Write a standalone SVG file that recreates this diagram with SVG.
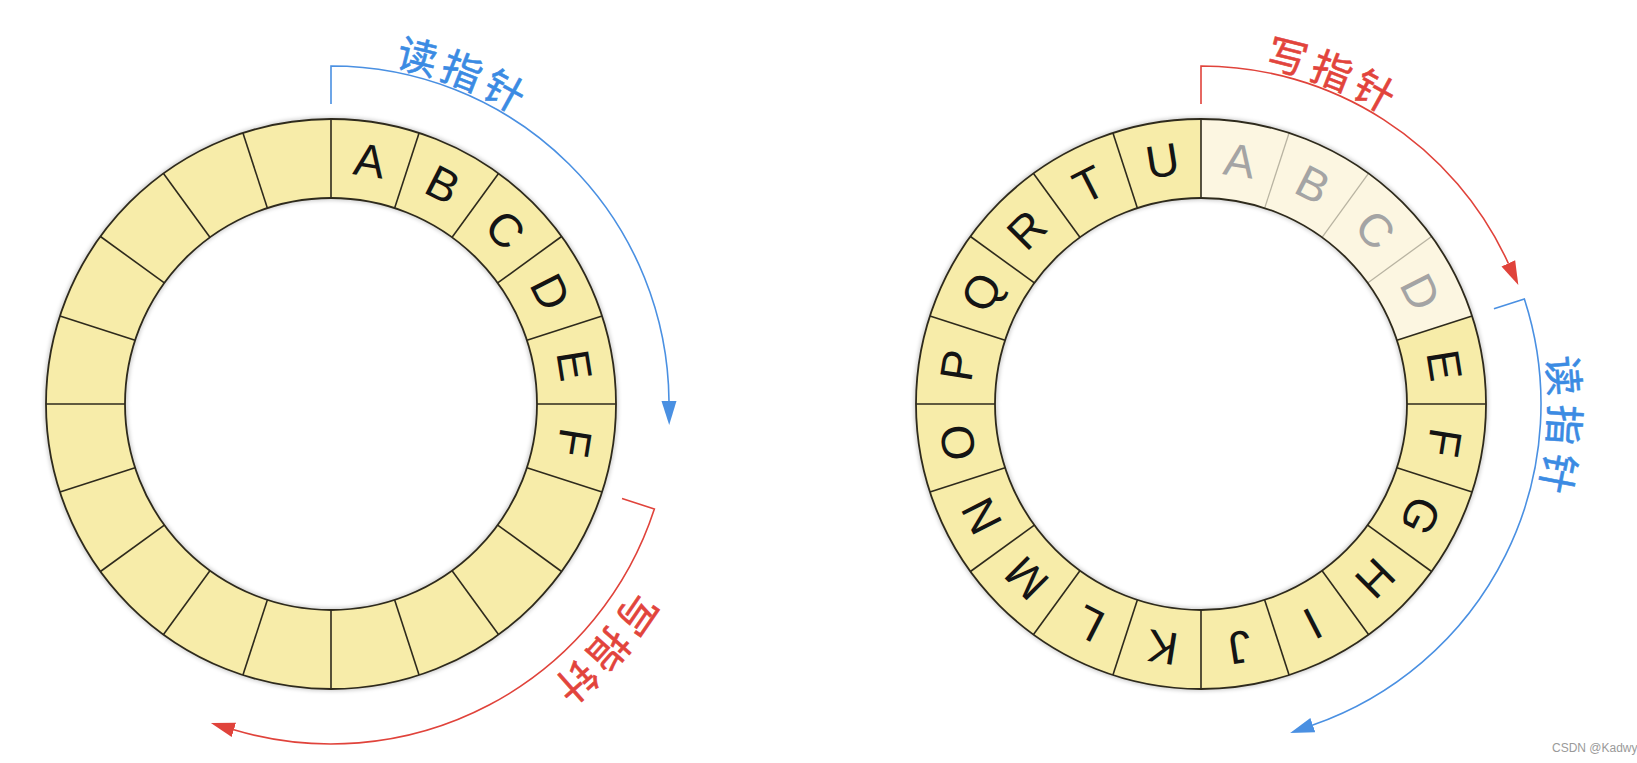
<svg xmlns="http://www.w3.org/2000/svg" width="1637" height="763" viewBox="0 0 1637 763">
  <style>
    .band { fill: none; stroke: #f7eca9; stroke-width: 79; }
    .band-fade { fill: none; stroke: #fcf6e1; stroke-width: 79; }
    .edge { fill: none; stroke: #2e2a1c; stroke-width: 1.8; }
    .halo { fill: none; stroke: #000; stroke-opacity: 0.28; stroke-width: 3; filter: url(#blur); }
    .div { stroke: #2e2a1c; stroke-width: 1.6; }
    .div-fade { stroke: #b9b4a2; stroke-width: 1.3; }
    .let { font-family: "Liberation Sans", Arial, sans-serif; font-size: 46px; fill: #141414; text-anchor: middle; }
    .let-fade { fill: #a4a4a4; }
    .cjk { font-family: "Noto Sans CJK SC", "Noto Sans", sans-serif; font-size: 40px; text-anchor: middle; stroke-width: 0.6; }
    .blue-t { fill: #3b8be3; stroke: #3b8be3; }
    .red-t { fill: #e2443c; stroke: #e2443c; }
    .ptr-blue { fill: none; stroke: #4a90e2; stroke-width: 1.6; marker-end: url(#ahBlue); }
    .ptr-red { fill: none; stroke: #e0433b; stroke-width: 1.6; marker-end: url(#ahRed); }
    .wm { font-family: "Liberation Sans", Arial, sans-serif; font-size: 12px; fill: #9a9a9a; }
  </style>
  <defs>
    <filter id="blur" x="-10%" y="-10%" width="120%" height="120%">
      <feGaussianBlur stdDeviation="2"/>
    </filter>
    <marker id="ahBlue" viewBox="0 -8 25 16" refX="0" refY="0" markerWidth="25" markerHeight="16" markerUnits="userSpaceOnUse" orient="auto">
      <path d="M0,-7.5 L24,0 L0,7.5 Z" fill="#4a90e2"/>
    </marker>
    <marker id="ahRed" viewBox="0 -8 25 16" refX="0" refY="0" markerWidth="25" markerHeight="16" markerUnits="userSpaceOnUse" orient="auto">
      <path d="M0,-7.5 L24,0 L0,7.5 Z" fill="#e0433b"/>
    </marker>
  </defs>
  <rect width="1637" height="763" fill="#ffffff"/>

  <!-- Left ring buffer -->
  <g id="ring-left">
    <circle class="halo" cx="331" cy="404" r="285"/>
    <circle class="halo" cx="331" cy="404" r="206"/>
    <circle class="band" cx="331" cy="404" r="245.5"/>
    <g class="div">
      <line x1="331" y1="198" x2="331" y2="119" transform="rotate(0 331 404)"/>
      <line x1="331" y1="198" x2="331" y2="119" transform="rotate(18 331 404)"/>
      <line x1="331" y1="198" x2="331" y2="119" transform="rotate(36 331 404)"/>
      <line x1="331" y1="198" x2="331" y2="119" transform="rotate(54 331 404)"/>
      <line x1="331" y1="198" x2="331" y2="119" transform="rotate(72 331 404)"/>
      <line x1="331" y1="198" x2="331" y2="119" transform="rotate(90 331 404)"/>
      <line x1="331" y1="198" x2="331" y2="119" transform="rotate(108 331 404)"/>
      <line x1="331" y1="198" x2="331" y2="119" transform="rotate(126 331 404)"/>
      <line x1="331" y1="198" x2="331" y2="119" transform="rotate(144 331 404)"/>
      <line x1="331" y1="198" x2="331" y2="119" transform="rotate(162 331 404)"/>
      <line x1="331" y1="198" x2="331" y2="119" transform="rotate(180 331 404)"/>
      <line x1="331" y1="198" x2="331" y2="119" transform="rotate(198 331 404)"/>
      <line x1="331" y1="198" x2="331" y2="119" transform="rotate(216 331 404)"/>
      <line x1="331" y1="198" x2="331" y2="119" transform="rotate(234 331 404)"/>
      <line x1="331" y1="198" x2="331" y2="119" transform="rotate(252 331 404)"/>
      <line x1="331" y1="198" x2="331" y2="119" transform="rotate(270 331 404)"/>
      <line x1="331" y1="198" x2="331" y2="119" transform="rotate(288 331 404)"/>
      <line x1="331" y1="198" x2="331" y2="119" transform="rotate(306 331 404)"/>
      <line x1="331" y1="198" x2="331" y2="119" transform="rotate(324 331 404)"/>
      <line x1="331" y1="198" x2="331" y2="119" transform="rotate(342 331 404)"/>
    </g>
    <circle class="edge" cx="331" cy="404" r="285"/>
    <circle class="edge" cx="331" cy="404" r="206"/>
    <text class="let" x="331" y="173.5" transform="rotate(9 331 404)">A</text>
    <text class="let" x="331" y="173.5" transform="rotate(27 331 404)">B</text>
    <text class="let" x="331" y="173.5" transform="rotate(45 331 404)">C</text>
    <text class="let" x="331" y="173.5" transform="rotate(63 331 404)">D</text>
    <text class="let" x="331" y="173.5" transform="rotate(81 331 404)">E</text>
    <text class="let" x="331" y="173.5" transform="rotate(99 331 404)">F</text>
  </g>

  <!-- Right ring buffer -->
  <g id="ring-right">
    <circle class="halo" cx="1201" cy="404" r="285"/>
    <circle class="halo" cx="1201" cy="404" r="206"/>
    <circle class="band" cx="1201" cy="404" r="245.5"/>
    <path class="band-fade" d="M1201,158.5 A245.5,245.5 0 0 1 1434.49,328.14"/>
    <g class="div-fade">
      <line x1="1201" y1="198" x2="1201" y2="119" transform="rotate(18 1201 404)"/>
      <line x1="1201" y1="198" x2="1201" y2="119" transform="rotate(36 1201 404)"/>
      <line x1="1201" y1="198" x2="1201" y2="119" transform="rotate(54 1201 404)"/>
    </g>
    <g class="div">
      <line x1="1201" y1="198" x2="1201" y2="119" transform="rotate(0 1201 404)"/>
      <line x1="1201" y1="198" x2="1201" y2="119" transform="rotate(72 1201 404)"/>
      <line x1="1201" y1="198" x2="1201" y2="119" transform="rotate(90 1201 404)"/>
      <line x1="1201" y1="198" x2="1201" y2="119" transform="rotate(108 1201 404)"/>
      <line x1="1201" y1="198" x2="1201" y2="119" transform="rotate(126 1201 404)"/>
      <line x1="1201" y1="198" x2="1201" y2="119" transform="rotate(144 1201 404)"/>
      <line x1="1201" y1="198" x2="1201" y2="119" transform="rotate(162 1201 404)"/>
      <line x1="1201" y1="198" x2="1201" y2="119" transform="rotate(180 1201 404)"/>
      <line x1="1201" y1="198" x2="1201" y2="119" transform="rotate(198 1201 404)"/>
      <line x1="1201" y1="198" x2="1201" y2="119" transform="rotate(216 1201 404)"/>
      <line x1="1201" y1="198" x2="1201" y2="119" transform="rotate(234 1201 404)"/>
      <line x1="1201" y1="198" x2="1201" y2="119" transform="rotate(252 1201 404)"/>
      <line x1="1201" y1="198" x2="1201" y2="119" transform="rotate(270 1201 404)"/>
      <line x1="1201" y1="198" x2="1201" y2="119" transform="rotate(288 1201 404)"/>
      <line x1="1201" y1="198" x2="1201" y2="119" transform="rotate(306 1201 404)"/>
      <line x1="1201" y1="198" x2="1201" y2="119" transform="rotate(324 1201 404)"/>
      <line x1="1201" y1="198" x2="1201" y2="119" transform="rotate(342 1201 404)"/>
    </g>
    <circle class="edge" cx="1201" cy="404" r="285"/>
    <circle class="edge" cx="1201" cy="404" r="206"/>
    <text class="let let-fade" x="1201" y="173.5" transform="rotate(9 1201 404)">A</text>
    <text class="let let-fade" x="1201" y="173.5" transform="rotate(27 1201 404)">B</text>
    <text class="let let-fade" x="1201" y="173.5" transform="rotate(45 1201 404)">C</text>
    <text class="let let-fade" x="1201" y="173.5" transform="rotate(63 1201 404)">D</text>
    <text class="let" x="1201" y="173.5" transform="rotate(81 1201 404)">E</text>
    <text class="let" x="1201" y="173.5" transform="rotate(99 1201 404)">F</text>
    <text class="let" x="1201" y="173.5" transform="rotate(117 1201 404)">G</text>
    <text class="let" x="1201" y="173.5" transform="rotate(135 1201 404)">H</text>
    <text class="let" x="1201" y="173.5" transform="rotate(153 1201 404)">I</text>
    <text class="let" x="1201" y="173.5" transform="rotate(171 1201 404)">J</text>
    <text class="let" x="1201" y="173.5" transform="rotate(189 1201 404)">K</text>
    <text class="let" x="1201" y="173.5" transform="rotate(207 1201 404)">L</text>
    <text class="let" x="1201" y="173.5" transform="rotate(225 1201 404)">M</text>
    <text class="let" x="1201" y="173.5" transform="rotate(243 1201 404)">N</text>
    <text class="let" x="1201" y="173.5" transform="rotate(261 1201 404)">O</text>
    <text class="let" x="1201" y="173.5" transform="rotate(279 1201 404)">P</text>
    <text class="let" x="1201" y="173.5" transform="rotate(297 1201 404)">Q</text>
    <text class="let" x="1201" y="173.5" transform="rotate(315 1201 404)">R</text>
    <text class="let" x="1201" y="173.5" transform="rotate(333 1201 404)">T</text>
    <text class="let" x="1201" y="173.5" transform="rotate(351 1201 404)">U</text>
  </g>

  <!-- Pointer connectors -->
  <g id="connectors">
    <path id="left-read" class="ptr-blue" d="M331,104 V66 A338,338 0 0 1 668.99,401.05"/>
    <path id="left-write" class="ptr-red" d="M622.02,498.56 L654.36,509.07 A340,340 0 0 1 233.87,729.83"/>
    <path id="right-write" class="ptr-red" d="M1201,104 V66 A338,338 0 0 1 1508.32,263.30"/>
    <path id="right-read" class="ptr-blue" d="M1493.93,308.82 L1524.36,298.93 A340,340 0 0 1 1312.82,725.09"/>
  </g>

  <!-- Pointer labels -->
  <g id="label-left-read" class="cjk blue-t">
    <text x="331" y="61" transform="rotate(14 331 404)">读</text>
    <text x="331" y="61" transform="rotate(21.5 331 404)">指</text>
    <text x="331" y="61" transform="rotate(29 331 404)">针</text>
  </g>
  <g id="label-left-write" class="cjk red-t">
    <text x="331" y="48" transform="rotate(124.5 331 404)">写</text>
    <text x="331" y="48" transform="rotate(131.5 331 404)">指</text>
    <text x="331" y="48" transform="rotate(138.5 331 404)">针</text>
  </g>
  <g id="label-right-write" class="cjk red-t">
    <text x="1201" y="61" transform="rotate(14 1201 404)">写</text>
    <text x="1201" y="61" transform="rotate(21.5 1201 404)">指</text>
    <text x="1201" y="61" transform="rotate(29 1201 404)">针</text>
  </g>
  <g id="label-right-read" class="cjk blue-t">
    <text x="1201" y="55" transform="rotate(85.5 1201 404)">读</text>
    <text x="1201" y="55" transform="rotate(93.3 1201 404)">指</text>
    <text x="1201" y="55" transform="rotate(101 1201 404)">针</text>
  </g>

  <text class="wm" x="1552" y="752">CSDN @Kadwy</text>
</svg>
